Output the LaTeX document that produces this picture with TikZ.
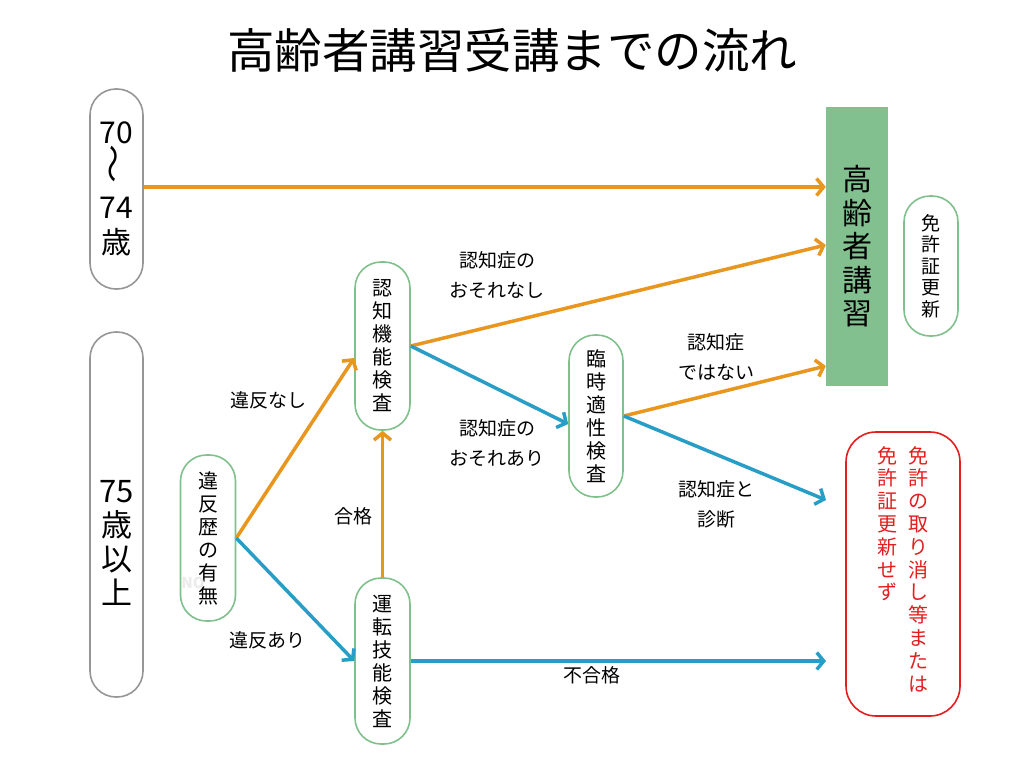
\documentclass[tikz,border=0pt]{standalone}
\usepackage{fontspec}
\setmainfont{Noto Sans CJK JP}
\usetikzlibrary{arrows.meta}
\definecolor{orn}{RGB}{233,150,30}
\definecolor{blu}{RGB}{40,158,198}
\definecolor{grn}{RGB}{130,192,144}
\definecolor{gbd}{RGB}{128,192,140}
\definecolor{gry}{RGB}{150,150,150}
\definecolor{rd}{RGB}{226,30,30}
\begin{document}
\begin{tikzpicture}[x=1pt,y=-1pt,
  pill/.style={draw=gbd,line width=1.6pt,rounded corners=26pt,minimum width=55pt,align=center,inner sep=0pt,font=\fontsize{20}{23}\selectfont},
  graybox/.style={draw=gry,line width=1.6pt,rounded corners=26pt,minimum width=53pt,align=center,inner sep=0pt},
  lbl/.style={align=center,inner sep=0pt,font=\fontsize{19}{30}\selectfont},
  arr/.style={line width=3.5pt,-{Straight Barb[length=7pt,width=17pt]}},
  redtxt/.style={text=rd,align=center,inner sep=0pt,anchor=north,font=\fontsize{20}{22.8}\selectfont}]
\useasboundingbox (0,0) rectangle (1024,768);
% title
\node[inner sep=0pt,font=\fontsize{47.5}{50}\selectfont] (title) at (512,50) {高齢者講習受講までの流れ};
% left age boxes
\node[graybox,minimum height=200pt,font=\fontsize{30}{35}\selectfont] (b70) at (116.5,189) {70\\\rotatebox{90}{\scalebox{1.3}[1]{～}}\\74\\歳};
\node[graybox,minimum height=365pt] (b75) at (116.5,514.5) {};
\node[align=center,inner sep=0pt,font=\fontsize{31}{34}\selectfont] (t75) at (116.5,543) {75\\歳\\以\\上};
% process boxes
\node[pill,minimum height=166pt] (ihan) at (208,538) {違\\反\\歴\\の\\有\\無};
\node[text=black!8,font=\bfseries\fontsize{15}{15}\selectfont,inner sep=0pt] (no) at (193,583) {NO};
\node[pill,minimum height=168pt] (ninchi) at (382.5,346) {認\\知\\機\\能\\検\\査};
\node[pill,minimum height=166pt] (unten) at (382.5,661) {運\\転\\技\\能\\検\\査};
\node[pill,minimum height=162pt,minimum width=54pt] (rinji) at (596,416) {臨\\時\\適\\性\\検\\査};
\node[fill=grn,minimum width=62pt,minimum height=279pt,inner sep=0pt,align=center,font=\fontsize{30}{33.5}\selectfont] (kosh) at (857,246.5) {高\\齢\\者\\講\\習};
\node[pill,minimum height=140pt,minimum width=54pt,font=\fontsize{19}{21.5}\selectfont] (koshin) at (931,266) {免\\許\\証\\更\\新};
% red box
\node[draw=rd,line width=1.6pt,rounded corners=30pt,minimum width=114pt,minimum height=284pt] (red) at (903,574) {};
\node[redtxt] (r1) at (918,446) {免\\許\\の\\取\\り\\消\\し\\等\\ま\\た\\は};
\node[redtxt] (r2) at (887,446) {免\\許\\証\\更\\新\\せ\\ず};
% free ends
\coordinate (e1) at (826,661);
\coordinate (e2) at (826,500);
% arrows
\draw[arr,orn] (b70.east |- 0,187) -- (kosh.west |- 0,187);
\draw[arr,orn] (ihan.east) -- (ninchi.west |- 0,358);
\draw[arr,blu] (ihan.east) -- (unten.west);
\draw[arr,orn] (unten.north) -- (ninchi.south);
\draw[arr,orn] (ninchi.east) -- (kosh.west |- 0,245);
\draw[arr,blu] (ninchi.east) -- (rinji.west |- 0,424);
\draw[arr,orn] (rinji.east) -- (kosh.west |- 0,366);
\draw[arr,blu] (rinji.east) -- (e2);
\draw[arr,blu] (unten.east) -- (e1);
% labels
\node[lbl] (l1) at (497,275) {認知症の\\おそれなし};
\node[lbl] (l2) at (268,400) {違反なし};
\node[lbl] (l3) at (497,443) {認知症の\\おそれあり};
\node[lbl] (l4) at (353,516) {合格};
\node[lbl] (l5) at (267,640) {違反あり};
\node[lbl] (l6) at (716,357) {認知症\\ではない};
\node[lbl] (l7) at (716,504) {認知症と\\診断};
\node[lbl] (l8) at (592,675) {不合格};
\end{tikzpicture}
\end{document}
